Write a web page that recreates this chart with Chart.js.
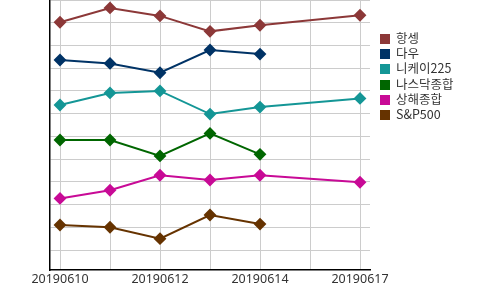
<!DOCTYPE html>
<html>
<head>
<meta charset="utf-8">
<script src="https://cdn.jsdelivr.net/npm/chart.js@4/dist/chart.umd.min.js"></script>
<style>
  html, body { margin: 0; padding: 0; background: #fff; }
  #wrap { position: relative; width: 500px; height: 290px; }
  #c { position: absolute; left: 0; top: 0; }
  #legend { position: absolute; left: 380px; top: 30px; font-family: "Noto Sans CJK KR", "Noto Sans", sans-serif; font-size: 12.5px; color: #333; }
  .item { height: 15.2px; line-height: 15.2px; white-space: nowrap; }
  .box { display: inline-block; width: 10px; height: 10px; vertical-align: -1px; margin-right: 6px; }
</style>
</head>
<body>
<div id="wrap">
  <canvas id="c" width="500" height="290"></canvas>
  <div id="legend"></div>
</div>
<script>
// categories (dates)
const categories = ['20190610', '20190611', '20190612', '20190613', '20190614', '20190615', '20190617'];
// series names
const seriesNames = ['항셍', '다우', '니케이225', '나스닥종합', '상해종합', 'S&P500'];
// series values (unitless; null = no data)
const hangSeng = [110.2, 116.5, 113.0, 106.2, 108.9, null, 113.3];
const dow      = [93.6, 92.1, 88.0, 98.0, 96.2, null, null];
const nikkei   = [73.8, 79.1, 80.0, 69.8, 72.9, null, 76.7];
const nasdaq   = [58.4, 58.4, 51.4, 61.3, 52.1, null, null];
const shanghai = [32.7, 36.3, 42.9, 40.8, 42.9, null, 39.8];
const sp500    = [21.0, 20.0, 15.0, 25.4, 21.4, null, null];
// x tick labels shown
const tickLabels = ['20190610', '20190612', '20190614', '20190617'];

const seriesValues = [hangSeng, dow, nikkei, nasdaq, shanghai, sp500];
const colors = ['rgb(140,56,56)', 'rgb(0,51,102)', 'rgb(20,150,150)', 'rgb(0,102,0)', 'rgb(200,10,150)', 'rgb(102,51,0)'];

const datasets = seriesNames.map((name, i) => ({
  label: name,
  data: seriesValues[i].map((v, j) => ({ x: j, y: v })),
  borderColor: colors[i],
  backgroundColor: colors[i],
  borderWidth: 2,
  pointStyle: 'rectRot',
  pointRadius: 5,
  pointHoverRadius: 5,
  tension: 0,
  spanGaps: true
}));

new Chart(document.getElementById('c'), {
  type: 'line',
  data: { datasets },
  options: {
    responsive: false,
    animation: false,
    events: [],
    layout: { autoPadding: false, padding: { left: 0, right: 130, top: 0, bottom: 0 } },
    plugins: { legend: { display: false }, tooltip: { enabled: false } },
    scales: {
      x: {
        type: 'linear',
        min: -0.2,
        max: 6.2,
        afterFit: s => { s.height = 20; },
        grid: { color: '#cccccc', drawTicks: false },
        border: { color: '#000', width: 1.5 },
        ticks: {
          stepSize: 1,
          includeBounds: false,
          autoSkip: false,
          maxRotation: 0,
          padding: 2,
          color: '#333',
          font: { family: 'Noto Sans', size: 12.5 },
          callback: v => (tickLabels.includes(categories[v]) ? categories[v] : '')
        }
      },
      y: {
        min: 1.2,
        max: 120,
        afterFit: s => { s.width = 50; },
        grid: { color: '#cccccc', drawTicks: false },
        border: { color: '#000', width: 1.5 },
        ticks: { display: false, stepSize: 10, includeBounds: false }
      }
    }
  }
});

const legend = document.getElementById('legend');
seriesNames.forEach((name, i) => {
  const d = document.createElement('div');
  d.className = 'item';
  const b = document.createElement('span');
  b.className = 'box';
  b.style.background = colors[i];
  d.appendChild(b);
  d.appendChild(document.createTextNode(name));
  legend.appendChild(d);
});
</script>
</body>
</html>
